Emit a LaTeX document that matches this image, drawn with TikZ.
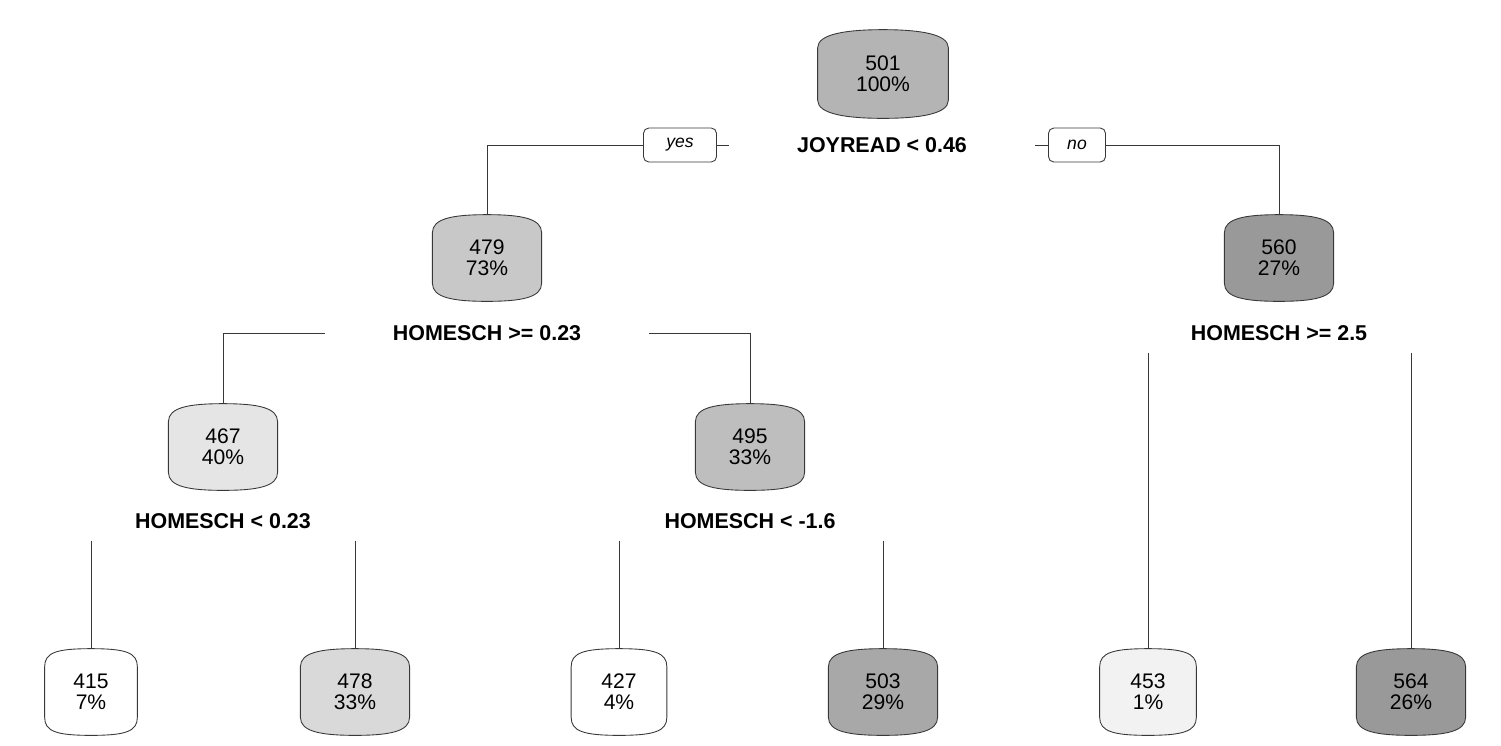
\documentclass[tikz,border=0pt]{standalone}
\usepackage{fontspec}
\setmainfont{Liberation Sans}
\usetikzlibrary{positioning,backgrounds}
\definecolor{g501}{gray}{0.705}
\definecolor{g479}{gray}{0.785}
\definecolor{g560}{gray}{0.600}
\definecolor{g467}{gray}{0.898}
\definecolor{g495}{gray}{0.745}
\definecolor{g415}{gray}{1.000}
\definecolor{g478}{gray}{0.851}
\definecolor{g427}{gray}{1.000}
\definecolor{g503}{gray}{0.659}
\definecolor{g453}{gray}{0.949}
\definecolor{g564}{gray}{0.600}
\definecolor{edgegray}{gray}{0.22}
\tikzset{
  tbox/.style={align=center,inner sep=0pt,minimum width=2.17cm,
    minimum height=1.72cm,font=\fontsize{12}{11.8}\selectfont},
  split/.style={font=\fontsize{12.2}{13}\selectfont\bfseries,inner xsep=1.36cm,
    inner ysep=0.24cm,text height=8.6pt,text depth=0pt},
  answer/.style={draw=edgegray,line width=0.5pt,rounded corners=3pt,minimum height=0.68cm,
    inner sep=0pt,font=\fontsize{10}{12}\selectfont\itshape},
  branch/.style={draw=edgegray,line width=0.5pt}
}
\begin{document}
\begin{tikzpicture}[x=0.02cm,y=-0.02cm]
\useasboundingbox (0,0) rectangle (1501,745);

\node[tbox,minimum width=2.6cm,minimum height=1.76cm] (n501) at (883,74) {501\\100\%};
\node[tbox] (n479) at (487,258) {479\\73\%};
\node[tbox] (n560) at (1279,258) {560\\27\%};
\node[tbox] (n467) at (223,447) {467\\40\%};
\node[tbox] (n495) at (750,447) {495\\33\%};
\node[tbox,minimum width=1.84cm] (n415) at (91,692) {415\\7\%};
\node[tbox] (n478) at (355,692) {478\\33\%};
\node[tbox,minimum width=1.9cm] (n427) at (619,692) {427\\4\%};
\node[tbox] (n503) at (883,692) {503\\29\%};
\node[tbox,minimum width=1.92cm] (n453) at (1148,692) {453\\1\%};
\node[tbox] (n564) at (1411,692) {564\\26\%};

\node[split] (s1) at (882,145) {JOYREAD < 0.46};
\node[split] (s2) at (487,333) {HOMESCH >= 0.23};
\node[split] (s3) at (1279,333) {HOMESCH >= 2.5};
\node[split] (s4) at (223,521) {HOMESCH < 0.23};
\node[split] (s5) at (750,521) {HOMESCH < -1.6};

\node[answer,minimum width=1.46cm] (yes) at (680,145) {yes};
\node[answer,minimum width=1.14cm] (no) at (1077,145) {no};

\begin{scope}[on background layer]
\foreach \n in {501,479,560,467,495,415,478,427,503,453,564} {
\draw[branch,fill=g\n] ([yshift=-0.36cm]n\n.north west)
  .. controls ([yshift=-0.08cm]n\n.north west) and ([xshift=-0.7cm]n\n.north) .. (n\n.north)
  .. controls ([xshift=0.7cm]n\n.north) and ([yshift=-0.08cm]n\n.north east) .. ([yshift=-0.36cm]n\n.north east)
  -- ([yshift=0.36cm]n\n.south east)
  .. controls ([yshift=0.08cm]n\n.south east) and ([xshift=0.7cm]n\n.south) .. (n\n.south)
  .. controls ([xshift=-0.7cm]n\n.south) and ([yshift=0.08cm]n\n.south west) .. ([yshift=0.36cm]n\n.south west)
  -- cycle;
}
\end{scope}

\draw[branch] (s1.west) -- (yes.east);
\draw[branch] (yes.west) -| (n479.north);
\draw[branch] (s1.east) -- (no.west);
\draw[branch] (no.east) -| (n560.north);
\draw[branch] (s2.west) -| (n467.north);
\draw[branch] (s2.east) -| (n495.north);
\foreach \s/\a/\b in {s3/n453/n564,s4/n415/n478,s5/n427/n503} {
\draw[branch] (\s.south -| \a.north) -- (\a.north);
\draw[branch] (\s.south -| \b.north) -- (\b.north);
};
\end{tikzpicture}
\end{document}
